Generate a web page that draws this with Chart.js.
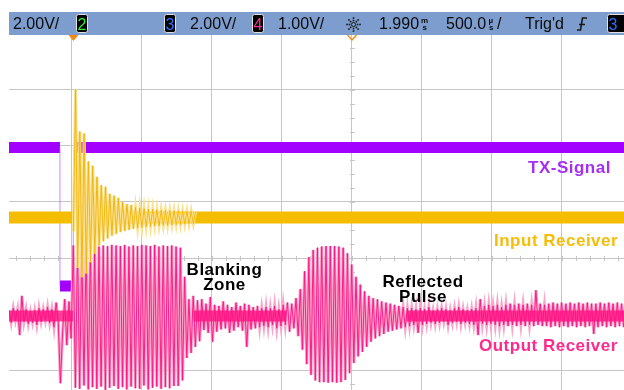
<!DOCTYPE html>
<html>
<head>
<meta charset="utf-8">
<script src="https://cdn.jsdelivr.net/npm/chart.js@4.4.1/dist/chart.umd.min.js"></script>
<style>
  html, body { margin: 0; padding: 0; background: #ffffff; overflow: hidden; }
  #wrap { position: relative; width: 624px; height: 390px; }
</style>
</head>
<body>
<div id="wrap"><canvas id="scope" width="624" height="390"></canvas></div>
<script>
// ---- Timebase: 500 µs/div, 1.990 ms delay at screen centre, trigger at t = 0 ----
const TIME_PER_DIV = 500;
const DELAY = 1990;
const X_MIN = -460, X_MAX = 3933;
// Vertical scale in screen divisions (0 = centre line)
const Y_MIN = -2.357, Y_MAX = 3.982;

// ---- Channel 3: TX signal (2.00 V/div) ----
const TX_OFFSET = -0.5;          // ground position, divisions
const TX_VDIV = 2;
const TX_BAND_T = [-460, -96, null, -96, -3, null, 4, 3933];
const TX_BAND_V = [4.95, 4.95, null, 0, 0, null, 4.95, 4.95];
const TX_EDGE_T = [-96, -96, null, -3, 4];
const TX_EDGE_V = [4.95, 0, null, 0, 4.95];

// ---- Channel 1: input receiver (2.00 V/div) ----
const IN_OFFSET = 0.723;
const IN_VDIV = 2;
const IN_BAND_T = [-460, 0, null, 310, 3933];
const IN_BAND_V = [0, 0, null, 0, 0];
const IN_RING_T0 = 0, IN_RING_DT = 15.3;
const IN_RING_V = [
  -0.50, 4.59, -1.80, 3.07, -2.13, 3.00, -2.00, 2.00, -1.60, 1.85,
  -1.30, 1.45, -1.00, 1.15, -0.85, 1.10, -0.75, 0.85, -0.65, 0.78,
  -0.58, 0.70, -0.52, 0.55, -0.48, 0.48, -0.44, 0.45, -0.40, 0.36,
  -0.38, 0.34, -0.36, 0.32, -0.34, 0.30, -0.32, 0.30, -0.30, 0.28,
  -0.30, 0.27, -0.28, 0.26, -0.28, 0.25, -0.27, 0.24, -0.26, 0.24,
  -0.25, 0.23, -0.24, 0.22, -0.23, 0.22, -0.22, 0.21
];

// ---- Channel 4: output receiver (1.00 V/div) ----
const OUT_OFFSET = -1.036;
const OUT_VDIV = 1;
// quiet stretches where the trace sits on its noise floor
const OUT_BAND_T = [-460, -2, null, 860, 1520, null, 2380, 3933];
const OUT_BAND_V = [0, 0, null, 0, 0, null, 0, 0];
const OUT_T0 = -460, OUT_DT = 15.3;
const OUT_V = [
  0.10, -0.12, 0.14, -0.08, 0.12, -0.34, 0.36, -0.10, 0.12, -0.14,
  0.08, -0.12, 0.10, -0.16, 0.14, -0.10, 0.12, -0.08, 0.16, -0.12,
  0.12, -0.20, 0.24, -0.10, -1.20, -0.30, 0.30, -0.52, 0.26, -0.40,
  1.26, -1.28, 1.25, -1.30, 1.27, -1.24, 1.26, -1.31, 1.25, -1.27,
  1.27, -1.30, 1.24, -1.26, 1.26, -1.32, 1.25, -1.28, 1.27, -1.25,
  1.26, -1.30, 1.25, -1.27, 1.27, -1.31, 1.24, -1.26, 1.26, -1.29,
  1.25, -1.30, 1.27, -1.24, 1.26, -1.31, 1.25, -1.28, 1.27, -1.26,
  1.24, -1.30, 1.26, -1.27, 1.25, -1.29, 1.26, -1.25, 1.24, -1.25,
  1.22, -1.15, 0.70, -0.75, 0.30, -0.66, 0.36, -0.55, 0.28, -0.45,
  0.30, -0.25, 0.22, -0.30, 0.34, -0.46, 0.20, -0.28, 0.18, -0.24,
  0.26, -0.22, 0.20, -0.30, 0.16, -0.26, 0.24, -0.20, 0.18, -0.26,
  0.22, -0.55, 0.20, -0.24, 0.16, -0.22, 0.18, -0.20, 0.14, -0.18,
  0.16, -0.20, 0.14, -0.16, 0.18, -0.22, 0.12, -0.18, 0.20, -0.16,
  0.24, -0.28, 0.22, -0.22, 0.32, -0.36, 0.48, -0.60, 0.80, -0.86,
  1.05, -1.05, 1.18, -1.15, 1.22, -1.18, 1.24, -1.18, 1.25, -1.19,
  1.25, -1.18, 1.25, -1.19, 1.24, -1.18, 1.22, -1.14, 1.12, -1.02,
  0.92, -0.84, 0.70, -0.72, 0.56, -0.64, 0.44, -0.55, 0.36, -0.46,
  0.32, -0.40, 0.30, -0.36, 0.26, -0.32, 0.24, -0.28, 0.22, -0.26,
  0.20, -0.24, 0.18, -0.22, 0.16, -0.20, 0.14, -0.18, 0.14, -0.16,
  0.12, -0.30, 0.14, -0.16, 0.12, -0.14, 0.16, -0.12, 0.10, -0.14,
  0.12, -0.12, 0.14, -0.10, 0.12, -0.16, 0.10, -0.12, 0.14, -0.10,
  0.16, -0.14, 0.12, -0.12, 0.10, -0.14, 0.12, -0.16, 0.14, -0.34,
  0.30, -0.14, 0.18, -0.16, 0.20, -0.14, 0.18, -0.16, 0.20, -0.18,
  0.16, -0.16, 0.20, -0.18, 0.22, -0.16, 0.20, -0.18, 0.22, -0.16,
  0.20, -0.18, 0.22, -0.16, 0.20, -0.18, 0.46, -0.16, 0.22, -0.18,
  0.20, -0.18, 0.22, -0.20, 0.24, -0.18, 0.22, -0.20, 0.24, -0.18,
  0.22, -0.20, 0.24, -0.18, 0.22, -0.20, 0.24, -0.18, 0.22, -0.20,
  0.24, -0.18, 0.22, -0.32, 0.22, -0.20, 0.24, -0.18, 0.22, -0.20,
  0.24, -0.18, 0.22, -0.20, 0.24, -0.18, 0.22, -0.20
];

// ---- Status line and trace labels ----
const HEADER_ITEMS = [
  { text: '2.00V/', x: 13 },
  { text: '2.00V/', x: 190 },
  { text: '1.00V/', x: 278 },
  { text: '1.990', x: 379 },
  { text: '500.0', x: 446 },
  { text: "Trig'd", x: 525 }
];
const CHANNEL_BOXES = [
  { label: '2', x: 76, w: 11, color: '#2ef02e' },
  { label: '3', x: 164, w: 11, color: '#2f6dff' },
  { label: '4', x: 252, w: 11, color: '#ff2b95' },
  { label: '3', x: 607, w: 20, color: '#2f6dff' }
];
const TRACE_LABELS = [
  { lines: ['TX-Signal'], x: 528, y: 173, align: 'left', color: '#a52ef2' },
  { lines: ['Input Receiver'], x: 494, y: 246, align: 'left', color: '#f5bd0a' },
  { lines: ['Output Receiver'], x: 479, y: 351, align: 'left', color: '#ff2a8e' },
  { lines: ['Blanking', 'Zone'], x: 224.5, y: 275, align: 'center', color: '#000000' },
  { lines: ['Reflected', 'Pulse'], x: 423, y: 286.5, align: 'center', color: '#000000' }
];

const GRID_COLOR = '#c6c6c6';
const GRID_X = [-4, -3, -2, -1, 0, 1, 2, 3].map(n => DELAY + n * TIME_PER_DIV);
const GRID_Y = [-2, -1, 0, 1, 2, 3];

// Build Chart.js point lists
function pairs(ts, vs, offset, vdiv) {
  return ts.map((t, i) => (t === null ? { x: null, y: null } : { x: t, y: offset + vs[i] / vdiv }));
}
function sampled(t0, dt, vs, offset, vdiv) {
  return vs.map((v, i) => ({ x: t0 + i * dt, y: offset + v / vdiv }));
}

const ringPoints = sampled(IN_RING_T0, IN_RING_DT, IN_RING_V, IN_OFFSET, IN_VDIV);
const outPoints = sampled(OUT_T0, OUT_DT, OUT_V, OUT_OFFSET, OUT_VDIV);

// Each busy trace is stroked twice: a wide pale pass (persistence glow) and a thin bright pass.
const datasets = [
  { data: ringPoints, borderColor: 'rgba(240,178,0,0.85)', borderWidth: 1, order: 0 },
  { data: ringPoints, borderColor: '#fbe192', borderWidth: 3, order: 0.5 },
  { data: pairs(IN_BAND_T, IN_BAND_V, IN_OFFSET, IN_VDIV), borderColor: '#f4bd00', borderWidth: 12, order: 1 },
  { data: outPoints, borderColor: 'rgba(255,15,130,0.9)', borderWidth: 1, order: 2 },
  { data: pairs(OUT_BAND_T, OUT_BAND_V, OUT_OFFSET, OUT_VDIV), borderColor: 'rgba(255,26,136,0.82)', borderWidth: 11, order: 2.5 },
  { data: outPoints, borderColor: '#f8a5ca', borderWidth: 3, order: 3 },
  { data: pairs(TX_EDGE_T, TX_EDGE_V, TX_OFFSET, TX_VDIV), borderColor: 'rgba(175,80,255,0.55)', borderWidth: 1.2, order: 4 },
  { data: pairs(TX_BAND_T, TX_BAND_V, TX_OFFSET, TX_VDIV), borderColor: '#a200ff', borderWidth: 11, order: 5 }
].map(d => Object.assign({ pointRadius: 0, tension: 0, spanGaps: false, clip: 0, fill: false }, d));

const scopePlugin = {
  id: 'scopeScreen',
  beforeDatasetsDraw(chart) {
    const { ctx, scales: { x, y } } = chart;
    ctx.save();
    ctx.strokeStyle = GRID_COLOR;
    ctx.lineWidth = 1;
    ctx.beginPath();
    // minor ticks on the centre cross
    const cx = Math.round(x.getPixelForValue(DELAY)) + 0.5;
    for (let v = Math.ceil(Y_MIN * 4) / 4; v <= Y_MAX; v += 0.25) {
      const py = Math.round(y.getPixelForValue(v)) + 0.5;
      ctx.moveTo(cx - 2.5, py); ctx.lineTo(cx + 2.5, py);
    }
    const cy = Math.round(y.getPixelForValue(0)) + 0.5;
    for (let t = DELAY - 25 * 100; t <= X_MAX; t += 100) {
      if (t < X_MIN) continue;
      const px = Math.round(x.getPixelForValue(t)) + 0.5;
      ctx.moveTo(px, cy - 2.5); ctx.lineTo(px, cy + 2.5);
    }
    ctx.stroke();
    ctx.restore();
  },
  afterDatasetsDraw(chart) {
    const { ctx } = chart;
    ctx.save();
    ctx.font = 'bold 17px "Liberation Sans", Arial, sans-serif';
    ctx.letterSpacing = '0.5px';
    ctx.textBaseline = 'alphabetic';
    TRACE_LABELS.forEach(l => {
      ctx.fillStyle = l.color;
      ctx.textAlign = l.align;
      l.lines.forEach((s, i) => ctx.fillText(s, l.x, l.y + i * 15));
    });
    ctx.restore();
  },
  afterDraw(chart) {
    const { ctx, scales: { x } } = chart;
    ctx.save();
    // status bar
    ctx.fillStyle = '#ffffff';
    ctx.fillRect(0, 0, 624, 12);
    ctx.fillStyle = '#7c9dcd';
    ctx.fillRect(9, 12, 615, 23);
    ctx.fillStyle = '#0b0b0b';
    ctx.font = '16px "Liberation Sans", Arial, sans-serif';
    ctx.textBaseline = 'alphabetic';
    HEADER_ITEMS.forEach(h => ctx.fillText(h.text, h.x, 29));
    // stacked unit glyphs
    ctx.font = 'bold 8px "Liberation Sans", Arial, sans-serif';
    ctx.fillText('m', 421, 22.5);
    ctx.fillText('s', 422.5, 30);
    ctx.fillText('\u00b5', 488.5, 22.5);
    ctx.fillText('s', 489, 30);
    ctx.font = '16px "Liberation Sans", Arial, sans-serif';
    ctx.fillText('/', 497, 29);
    // channel boxes
    CHANNEL_BOXES.forEach(b => {
      ctx.fillStyle = '#000000';
      ctx.strokeStyle = '#e2e2e2';
      ctx.lineWidth = 1;
      ctx.beginPath();
      ctx.roundRect(b.x + 0.5, 14.5, b.w, 18, 2);
      ctx.fill(); ctx.stroke();
      ctx.fillStyle = b.color;
      ctx.font = '16px "Liberation Sans", Arial, sans-serif';
      ctx.textAlign = 'center';
      ctx.fillText(b.label, b.x + 6, 29.5);
      ctx.textAlign = 'left';
    });
    // intensity / brightness icon
    ctx.fillStyle = '#1a1a1a';
    const sx = 353.5, sy = 24.5;
    for (let k = 0; k < 8; k++) {
      const ang = k * Math.PI / 4;
      [4, 6.5].forEach(r => {
        ctx.fillRect(sx + r * Math.cos(ang) - 0.8, sy + r * Math.sin(ang) - 0.8, 1.6, 1.6);
      });
    }
    ctx.strokeStyle = '#1a1a1a';
    ctx.lineWidth = 1;
    ctx.beginPath(); ctx.arc(sx, sy, 2, 0, Math.PI * 2); ctx.stroke();
    // rising-edge trigger symbol
    ctx.lineWidth = 1.6;
    ctx.beginPath();
    ctx.moveTo(577, 30); ctx.lineTo(580.5, 30); ctx.lineTo(582.5, 18); ctx.lineTo(587, 18);
    ctx.moveTo(579, 24.5); ctx.lineTo(585, 24.5);
    ctx.stroke();
    // trigger point and delay markers
    const tp = x.getPixelForValue(0);
    ctx.fillStyle = '#f08a10';
    ctx.beginPath();
    ctx.moveTo(tp - 5, 35); ctx.lineTo(tp + 5, 35); ctx.lineTo(tp, 41); ctx.closePath();
    ctx.fill();
    const dp = x.getPixelForValue(DELAY);
    ctx.strokeStyle = '#f08a10';
    ctx.lineWidth = 1.3;
    ctx.beginPath();
    ctx.moveTo(dp - 4.5, 35); ctx.lineTo(dp, 40); ctx.lineTo(dp + 4.5, 35);
    ctx.stroke();
    ctx.restore();
  }
};

new Chart(document.getElementById('scope'), {
  type: 'line',
  data: { datasets },
  options: {
    responsive: false,
    animation: false,
    events: [],
    parsing: false,
    layout: { padding: { left: 9, top: 35, right: 0, bottom: 0 } },
    plugins: { legend: { display: false }, tooltip: { enabled: false } },
    scales: {
      x: {
        type: 'linear', min: X_MIN, max: X_MAX,
        afterBuildTicks: s => { s.ticks = GRID_X.map(v => ({ value: v })); },
        ticks: { display: false },
        grid: { color: GRID_COLOR, drawTicks: false, lineWidth: 1 },
        border: { display: false }
      },
      y: {
        type: 'linear', min: Y_MIN, max: Y_MAX,
        afterBuildTicks: s => { s.ticks = GRID_Y.map(v => ({ value: v })); },
        ticks: { display: false },
        grid: { color: GRID_COLOR, drawTicks: false, lineWidth: 1 },
        border: { display: false }
      }
    }
  },
  plugins: [scopePlugin]
});
</script>
</body>
</html>
